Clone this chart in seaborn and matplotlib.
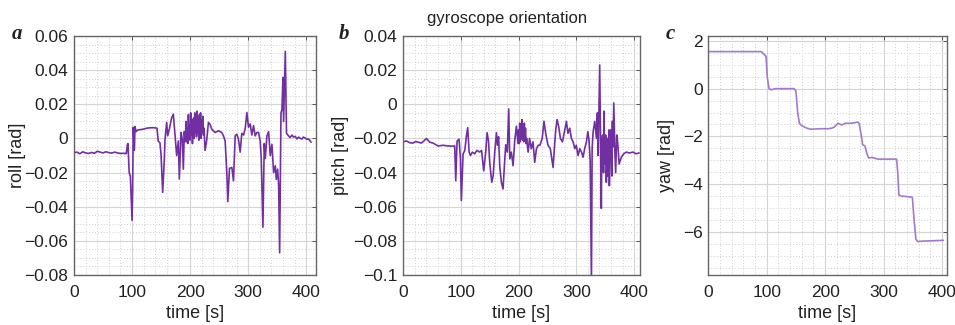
import numpy as np
import pandas as pd
import seaborn as sns
import matplotlib.pyplot as plt
from matplotlib.ticker import MultipleLocator

# ----------------------------
# Data
# ----------------------------
roll_t = [0, 5, 10, 15, 20, 25, 30, 35, 40, 45, 50, 55, 60, 65, 70, 75, 80, 85, 90,
          92, 93, 95, 97, 100, 101, 102, 104, 105, 107, 110, 115, 120, 125, 130, 135,
          140, 143, 145, 148, 150, 152.7, 155.6, 156.7, 159.6, 161.4, 164.2, 168.3,
          171.1, 174, 176.8, 179.7, 181.4, 184.3, 186.6, 188.3, 190, 191, 192, 193, 194,
          195, 196, 197, 198, 199, 200, 201, 202, 203, 204, 205, 206, 207, 208, 209,
          210, 211, 212, 213, 214, 215, 216, 217, 218, 219, 220, 221, 222, 223, 224,
          225.7, 228.6, 231.5, 234.4, 237.3, 243, 248.8, 254.6, 257.4, 260.3, 263.2,
          264.9, 267.8, 271.9, 274.7, 277.6, 280.4, 283.3, 286.2, 289, 292, 295,
          297.7, 300.6, 303.5, 306.3, 309.2, 312, 315, 317.9, 320.7, 322.5, 325.4,
          327.7, 329.4, 332.3, 335.2, 338, 340.9, 343.8, 346.7, 348.4, 350.7, 352.4,
          354.2, 356.5, 358.2, 359.9, 361, 364, 366, 369.7, 372, 375.5, 378, 381.2,
          384, 387, 390, 392.7, 395, 398.5, 401, 404.3, 408.3]
roll = [-0.0083, -0.0080, -0.0090, -0.0078, -0.0085, -0.0088, -0.0082, -0.0087, -0.0075,
        -0.0080, -0.0085, -0.0078, -0.0083, -0.0086, -0.0080, -0.0085, -0.0088, -0.0087,
        -0.0089, -0.0035, -0.0030, -0.0200, -0.0220, -0.0480, -0.0300, 0.0065, -0.0070,
        0.0070, 0.0040, 0.0050, 0.0052, 0.0055, 0.0060, 0.0062, 0.0063, 0.0062, 0.0060,
        -0.0015, -0.0025, -0.0100, -0.0316, -0.0120, -0.0007, 0.0094, 0.0015, 0.0055,
        0.0123, 0.0142, 0.0015, -0.0100, -0.0015, -0.0238, 0.0035, -0.0007, -0.0180,
        0.0040, -0.0020, 0.0030, 0.0100, -0.0020, 0.0060, -0.0030, 0.0140, 0.0010, 0.0080,
        -0.0010, 0.0150, 0.0020, 0.0110, -0.0030, 0.0090, 0.0120, 0.0000, 0.0150, 0.0040,
        0.0100, 0.0010, 0.0160, 0.0030, 0.0120, -0.0010, 0.0140, 0.0050, 0.0150, 0.0000,
        0.0110, 0.0040, 0.0130, 0.0020, 0.0060, -0.0070, -0.0010, 0.0094, 0.0082, 0.0054,
        0.0035, 0.0045, 0.0035, 0.0015, -0.0014, -0.0200, -0.0370, -0.0175, -0.0170,
        -0.0248, 0.0015, 0.0025, -0.0005, -0.0080, 0.0030, 0.0020, 0.0060, 0.0152, 0.0066,
        0.0085, 0.0020, 0.0075, 0.0015, 0.0035, 0.0035, -0.0015, -0.0115, -0.0520, -0.0030,
        -0.0118, 0.0015, 0.0040, -0.0100, -0.0035, -0.0200, -0.0160, -0.0240, -0.0180,
        -0.0270, -0.0670, 0.0150, 0.0170, 0.0357, 0.0100, 0.0510, 0.0030, 0.0015, 0.0005,
        0.0020, 0.0008, 0.0012, -0.0003, 0.0008, 0.0000, -0.0003, 0.0008, 0.0002, -0.0005,
        -0.0003, -0.0022]

pitch_t = [0, 6, 11.6, 17.4, 22, 26, 31.8, 36, 40.5, 46.2, 52, 56, 60.7, 69.3, 78, 86.6,
           89.5, 91.3, 93.6, 97, 99.3, 101, 104, 107, 109.7, 112, 114.4, 116.7, 120, 124,
           128, 132.8, 136, 139.7, 143.2, 145.5, 148, 150.1, 151.8, 153.6, 156, 158.8,
           161.7, 163.5, 165.5, 167.4, 170.3, 173.2, 175.5, 177.8, 180.5, 183, 184.8,
           187.5, 190.5, 193.5, 196.3, 199, 200, 201, 202, 203, 204, 205, 206, 207, 208,
           209, 210, 211, 212, 213, 214, 216.6, 219, 222, 225, 228, 231, 234, 237, 241,
           244, 247, 251, 255, 259.8, 262, 264.4, 266.7, 269.5, 272.5, 276, 280, 282.9,
           285.5, 288.6, 291.5, 294.5, 297.3, 300, 303, 306, 309, 311.7, 314.5, 317.5,
           320, 322, 324, 326.2, 327.4, 329.1, 332, 334.9, 336.5, 337.8, 339, 340.5,
           342.3, 343.3, 344.1, 345.5, 347.2, 348, 349, 350, 350.8, 352, 353.3, 354, 355,
           356.5, 357.2, 358, 359.5, 361.5, 362.5, 363.5, 364.9, 366.5, 368.1, 370,
           371.8, 374.1, 378, 382.1, 386.7, 392, 398.3, 403.5, 408.7]
pitch = [-0.0220, -0.0215, -0.0225, -0.0227, -0.0218, -0.0222, -0.0227, -0.0215, -0.0200,
         -0.0222, -0.0227, -0.0235, -0.0244, -0.0240, -0.0244, -0.0245, -0.0244, -0.0448,
         -0.0215, -0.0205, -0.0310, -0.0564, -0.0290, -0.0270, -0.0186, -0.0137, -0.0280,
         -0.0300, -0.0280, -0.0290, -0.0270, -0.0280, -0.0270, -0.0390, -0.0280, -0.0166,
         -0.0215, -0.0340, -0.0400, -0.0457, -0.0420, -0.0280, -0.0166, -0.0240, -0.0190,
         -0.0360, -0.0457, -0.0496, -0.0360, -0.0237, -0.0280, -0.0027, -0.0320, -0.0280,
         -0.0360, -0.0210, -0.0128, -0.0230, -0.0150, -0.0230, -0.0110, -0.0220, -0.0120,
         -0.0200, -0.0090, -0.0210, -0.0130, -0.0220, -0.0110, -0.0200, -0.0140, -0.0230,
         -0.0200, -0.0280, -0.0200, -0.0260, -0.0220, -0.0340, -0.0260, -0.0240, -0.0240,
         -0.0200, -0.0099, -0.0170, -0.0240, -0.0260, -0.0370, -0.0260, -0.0150, -0.0089,
         -0.0130, -0.0200, -0.0220, -0.0150, -0.0100, -0.0170, -0.0140, -0.0200, -0.0220,
         -0.0260, -0.0240, -0.0300, -0.0260, -0.0280, -0.0310, -0.0260, -0.0220, -0.0160,
         -0.0210, -0.0330, -0.1050, -0.0260, -0.0160, -0.0100, -0.0200, -0.0050, -0.0300,
         -0.0080, 0.0230, -0.0340, -0.0610, -0.0250, -0.0180, -0.0400, -0.0040, -0.0350,
         -0.0250, -0.0180, -0.0457, -0.0200, -0.0420, -0.0360, -0.0150, -0.0477, -0.0330,
         -0.0150, -0.0420, -0.0100, -0.0250, 0.0008, -0.0250, -0.0400, -0.0180, -0.0230,
         -0.0350, -0.0310, -0.0290, -0.0280, -0.0285, -0.0280, -0.0290, -0.0285]

yaw_t = [0, 30, 60, 91, 95, 99, 101, 104, 108, 115, 130, 147, 150, 153, 156, 160, 168,
         175, 190, 205, 212, 216, 222, 228, 235, 245, 256, 258, 262, 264, 268, 271, 274,
         280, 290, 305, 322, 324, 326, 330, 340, 349, 352, 355, 358, 370, 385, 402]
yaw = [1.55, 1.55, 1.55, 1.55, 1.45, 1.35, 0.50, 0.00, -0.05, 0.00, 0.00, 0.00, -0.10,
       -1.00, -1.45, -1.55, -1.65, -1.70, -1.68, -1.68, -1.65, -1.60, -1.45, -1.52, -1.45,
       -1.45, -1.40, -1.45, -2.00, -2.35, -2.40, -2.70, -2.90, -2.88, -2.95, -2.95, -2.95,
       -3.50, -4.45, -4.50, -4.52, -4.55, -5.50, -6.30, -6.40, -6.38, -6.37, -6.35]

# ----------------------------
# Style
# ----------------------------
sns.set_theme(style="white")
plt.rcParams["font.family"] = ["Liberation Sans", "DejaVu Sans"]

line_col = "#7130A2"
yaw_col = "#A27AC9"

fig = plt.figure(figsize=(9.55, 3.25), dpi=100)

panels = [
    dict(rect=[0.0775, 0.154, 0.2535, 0.735], t=roll_t, v=roll, col=line_col,
         ylim=(-0.08, 0.06), xlim=(0, 417), major=0.02, minor=0.005,
         ylabel="roll [rad]", ylx=-0.20, letter="a", lx=0.012),
    dict(rect=[0.422, 0.154, 0.248, 0.735], t=pitch_t, v=pitch, col=line_col,
         ylim=(-0.1, 0.04), xlim=(0, 410), major=0.02, minor=0.005,
         ylabel="pitch [rad]", ylx=-0.228, letter="b", lx=0.355),
    dict(rect=[0.7415, 0.154, 0.250, 0.735], t=yaw_t, v=yaw, col=yaw_col,
         ylim=(-7.8, 2.2), xlim=(0, 408), major=2, minor=0.5,
         ylabel="yaw [rad]", ylx=-0.138, letter="c", lx=0.697),
]

for p in panels:
    ax = fig.add_axes(p["rect"])
    df = pd.DataFrame({"t": p["t"], "v": p["v"]})
    sns.lineplot(data=df, x="t", y="v", ax=ax, color=p["col"], linewidth=1.2,
                 estimator=None, sort=False)
    ax.set_xlim(*p["xlim"])
    ax.set_ylim(*p["ylim"])
    ax.xaxis.set_major_locator(MultipleLocator(100))
    ax.xaxis.set_minor_locator(MultipleLocator(20))
    ax.yaxis.set_major_locator(MultipleLocator(p["major"]))
    ax.yaxis.set_minor_locator(MultipleLocator(p["minor"]))
    if p["major"] < 1:
        ax.yaxis.set_major_formatter(
            plt.FuncFormatter(lambda y, _: "0" if abs(y) < 1e-9 else f"{y:g}".replace("-", "\u2212")))
    ax.grid(which="major", color="#d4d4d4", linewidth=0.8, linestyle="-")
    ax.grid(which="minor", color="#cfcfcf", linewidth=0.7, linestyle=(0, (1, 2)))
    ax.set_axisbelow(True)
    ax.tick_params(which="major", direction="in", length=3, width=0.7, top=True, right=True,
                   labelsize=12.5, colors="#555555", labelcolor="#222222", pad=4)
    ax.tick_params(which="minor", direction="in", length=0, top=True, right=True)
    ax.tick_params(axis="x", pad=7)
    for s in ax.spines.values():
        s.set_color("#666666")
        s.set_linewidth(1.0)
    ax.set_xlabel("time [s]", fontsize=13, color="#222222")
    ax.xaxis.set_label_coords(0.5, -0.125)
    ax.set_ylabel(p["ylabel"], fontsize=13, color="#222222")
    ax.yaxis.set_label_coords(p["ylx"], 0.5)
    fig.text(p["lx"], 0.895, p["letter"], fontsize=15, fontweight="bold", fontstyle="italic",
             family=["Liberation Serif", "DejaVu Serif"], color="#222222", va="center")

fig.text(507 / 955, 1 - 18 / 325, "gyroscope orientation", fontsize=12, ha="center",
         va="center", color="#222222")

fig.savefig("out.png", dpi=100)
plt.close()
